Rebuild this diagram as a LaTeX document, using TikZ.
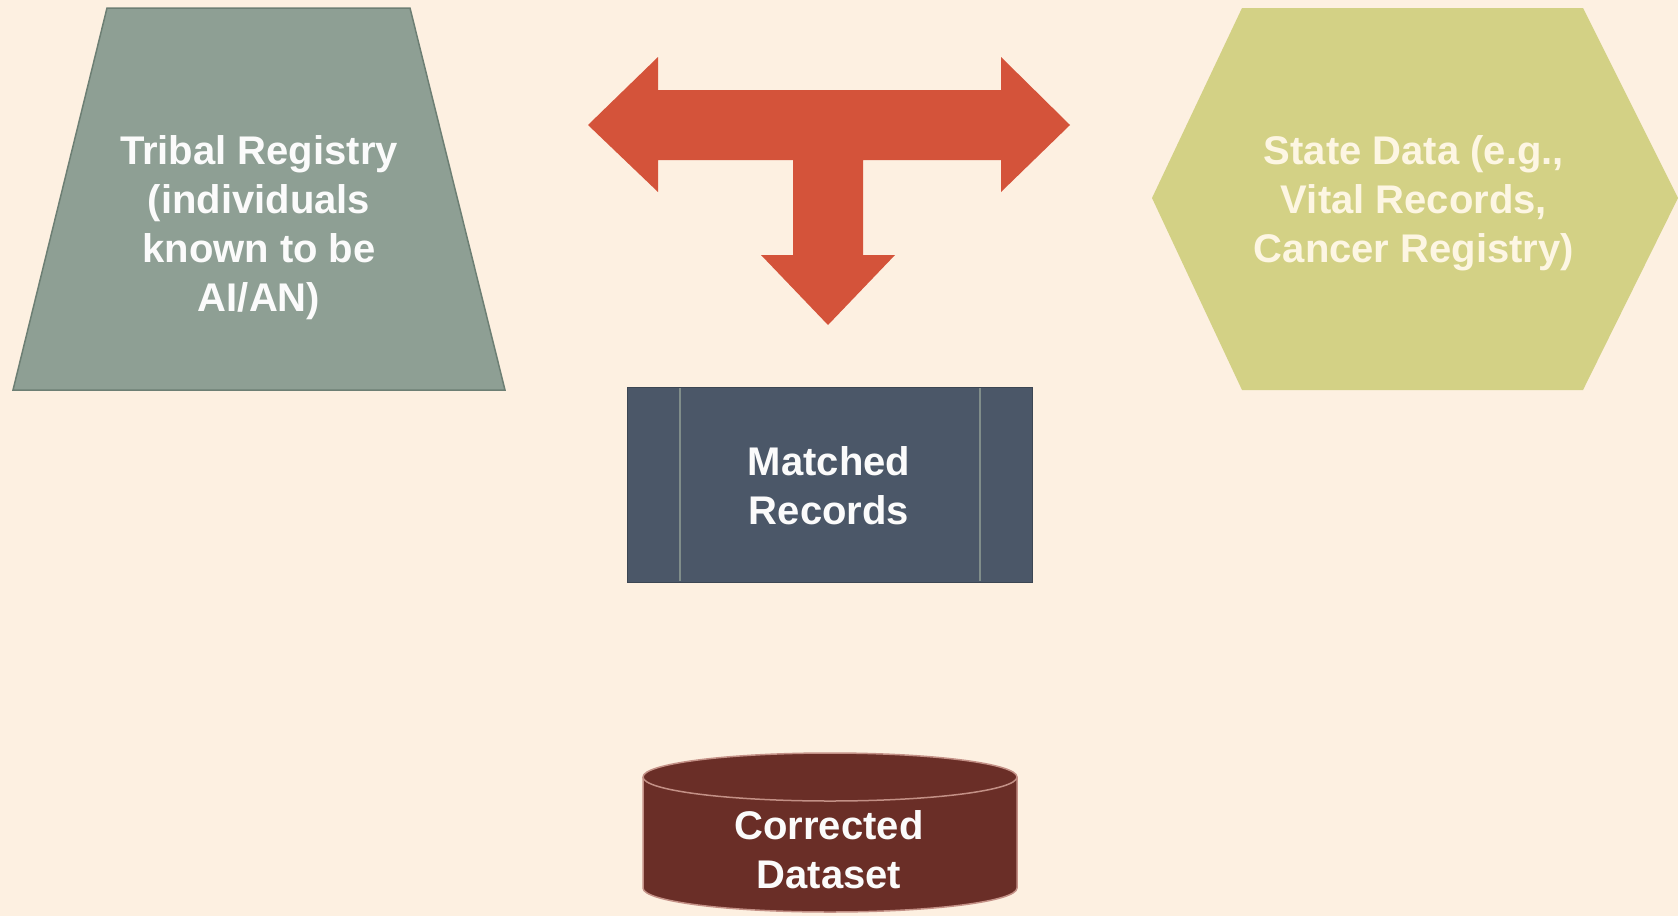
\documentclass[tikz,border=0pt]{standalone}
\usepackage{fontspec}
\setmainfont{Liberation Sans}

\definecolor{bgcream}{HTML}{FDF0E1}
\definecolor{tribalgray}{HTML}{8E9F94}
\definecolor{tribaledge}{HTML}{6D7F74}
\definecolor{arrowred}{HTML}{D4533A}
\definecolor{stateolive}{HTML}{D3D185}
\definecolor{statetext}{HTML}{FDF6E3}
\definecolor{matchslate}{HTML}{4B5768}
\definecolor{matchline}{HTML}{808D8A}
\definecolor{datasetbrown}{HTML}{6A2E27}
\definecolor{datasetedge}{HTML}{C39086}

\tikzset{
  boxtext/.style={text=white!97!gray, font=\bfseries\fontsize{40}{49}\selectfont, align=center, inner sep=0pt}
}

\begin{document}
\begin{tikzpicture}[x=1pt,y=-1pt]
    \fill [bgcream] (0,0) rectangle (1678,916);
    \useasboundingbox (0,0) rectangle (1678,916);

    % tribal registry
    \filldraw [fill=tribalgray,draw=tribaledge,line width=1.5pt] (107,8)--(410,8)--(505,390)--(13,390)--cycle;
    \node [boxtext] (tribal) at (259,228) {Tribal Registry\\(individuals\\known to be\\AI/AN)};

    % state data
    \fill [stateolive] (1242,8)--(1583,8)--(1678,198)--(1583,390)--(1242,390)--(1152,198)--cycle;
    \node [boxtext,text=statetext] (state) at (1414,203) {State Data (e.g.,\\Vital Records,\\Cancer Registry)};

    % linking arrow
    \fill [arrowred] (588,125)--(658,57)--(658,90)--(1001,90)--(1001,57)--(1070,125)--(1001,192)--(1001,160)
        --(863,160)--(863,255)--(895,255)--(828,325)--(761,255)--(793,255)--(793,160)
        --(658,160)--(658,192)--cycle;

    % matched records
    \filldraw [fill=matchslate,draw=matchslate!80!black] (627,387) rectangle (1032,582);
    \draw [matchline,line width=1.2pt] (680,388)--(680,581) (980,388)--(980,581);
    \node [boxtext] (matched) at (829,486) {Matched\\Records};

    % corrected dataset
    \filldraw [fill=datasetbrown,draw=datasetedge,line width=1.5pt] (643,777)--(643,888)
        arc [start angle=180,end angle=360,x radius=187pt,y radius=24pt]--(1017,777)
        arc [start angle=0,end angle=180,x radius=187pt,y radius=24pt]--cycle;
    \draw [datasetedge,line width=1.5pt] (643,777) arc [start angle=180,end angle=360,x radius=187pt,y radius=24pt];
    \node [boxtext] (dataset) at (829,850) {Corrected\\Dataset};
\end{tikzpicture}
\end{document}
